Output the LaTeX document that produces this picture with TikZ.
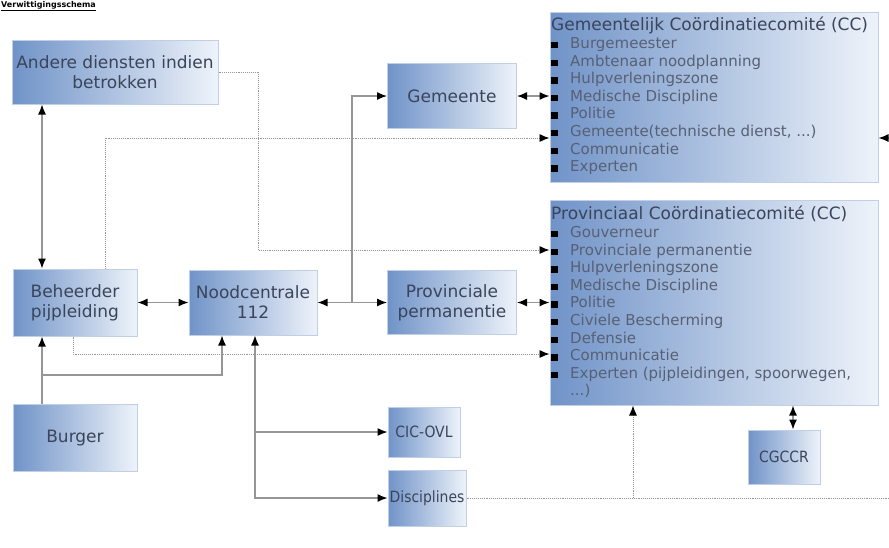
\documentclass[tikz,border=0pt]{standalone}
\usepackage{fontspec}
\setmainfont{DejaVu Sans}
\newfontfamily\narrowfont{DejaVu Sans Condensed}
\usetikzlibrary{arrows.meta}

\definecolor{boxdark}{RGB}{112,147,200}
\definecolor{boxlight}{RGB}{238,243,250}
\definecolor{boxrim}{RGB}{192,207,230}
\definecolor{labeltext}{RGB}{58,68,90}
\definecolor{itemtext}{RGB}{88,96,116}
\definecolor{linegrey}{RGB}{150,150,150}

\newcommand\blt{\makebox[19pt][l]{\color{black}\rule{6.5pt}{6.5pt}}}

\tikzset{
	unit/.style = {draw = boxrim, line width = 1pt, left color = boxdark, right color = boxlight,
		text = labeltext, align = center, inner sep = 0pt, font = \fontsize{17}{20}\selectfont},
	smallunit/.style = {unit, font = \narrowfont\fontsize{15.5}{18}\selectfont},
	itemlist/.style = {anchor = north west, align = left, inner sep = 0pt, text = itemtext,
		font = \fontsize{15}{17.6}\selectfont},
	link/.style = {draw = linegrey, line width = 1.3pt},
	dots/.style = {draw = linegrey, line width = 0.9pt, densely dotted}
}

\begin{document}
\begin{tikzpicture}[x = 1pt, y = -1pt, > = {Latex[length = 10pt, width = 8pt, color = black]}]

	% Definition

	\useasboundingbox (0, 0) rectangle (889, 547);

	\coordinate (xa) at (42, 0);	% Burger / Beheerder column
	\coordinate (xb) at (222, 0);
	\coordinate (xc) at (255, 0);
	\coordinate (xd) at (352, 0);
	\coordinate (xe) at (633, 0);
	\coordinate (xf) at (793, 0);
	\coordinate (xg) at (258, 0);
	\coordinate (xh) at (105, 0);
	\coordinate (xi) at (73, 0);
	\coordinate (xr) at (889, 0);	% right edge
	\coordinate (ya) at (0, 138);
	\coordinate (yb) at (0, 250);
	\coordinate (yc) at (0, 354);
	\coordinate (yd) at (0, 375);

	% Title

	\node [anchor = north west, inner sep = 0pt, font = \bfseries\fontsize{8}{10}\selectfont] (title)
		at (1, 1) {\underline{Verwittigingsschema}};

	% Boxes

	\node [unit, minimum width = 206, minimum height = 64] (andere) at (115, 72) {Andere diensten indien\\betrokken};
	\node [unit, minimum width = 129, minimum height = 65] (gem) at (452, 96) {Gemeente};
	\node [unit, minimum width = 124, minimum height = 67] (beh) at (75, 302.5) {Beheerder\\pijpleiding};
	\node [unit, minimum width = 128, minimum height = 65] (nood) at (253, 302.5) {Noodcentrale\\112};
	\node [unit, minimum width = 129, minimum height = 64] (prov) at (452, 302.5) {Provinciale\\permanentie};
	\node [unit, minimum width = 124, minimum height = 67] (burger) at (75, 438) {Burger};
	\node [smallunit, minimum width = 72, minimum height = 50] (cic) at (424, 432) {CIC-OVL};
	\node [smallunit, minimum width = 78, minimum height = 56] (disc) at (427, 498) {Disciplines};
	\node [smallunit, minimum width = 72, minimum height = 54] (cgccr) at (784, 457) {CGCCR};

	% Coordination committees

	\node [unit, minimum width = 328, minimum height = 170] (gcc) at (714, 97) {};
	\node [itemlist] (gcclist) at (551, 17) {%
		{\color{labeltext}\fontsize{17}{17.6}\selectfont Gemeentelijk Coördinatiecomité (CC)}\\
		\blt Burgemeester\\
		\blt Ambtenaar noodplanning\\
		\blt Hulpverleningszone\\
		\blt Medische Discipline\\
		\blt Politie\\
		\blt Gemeente(technische dienst, ...)\\
		\blt Communicatie\\
		\blt Experten};

	\node [unit, minimum width = 328, minimum height = 205] (pcc) at (714, 302.5) {};
	\node [itemlist] (pcclist) at (551, 206) {%
		{\color{labeltext}\fontsize{17}{17.6}\selectfont Provinciaal Coördinatiecomité (CC)}\\
		\blt Gouverneur\\
		\blt Provinciale permanentie\\
		\blt Hulpverleningszone\\
		\blt Medische Discipline\\
		\blt Politie\\
		\blt Civiele Bescherming\\
		\blt Defensie\\
		\blt Communicatie\\
		\blt Experten (pijpleidingen, spoorwegen,\\
		\hspace*{19pt}...)};

	% Solid connectors

	\draw [link, <->] (andere.south -| xa) -- (beh.north -| xa);
	\draw [link, ->] (burger.north -| xa) -- (beh.south -| xa);
	\draw [link, ->] (xa |- yd) -- (xb |- yd) -- (nood.south -| xb);
	\draw [link, <->] (beh) -- (nood);
	\draw [link, <->] (nood) -- (prov);
	\draw [link, ->] (xd |- nood) -- (xd |- gem) -- (gem);
	\draw [link, <->] (gem) -- (gem -| gcc.west);
	\draw [link, <->] (prov) -- (prov -| pcc.west);
	\draw [link, <->] (nood.south -| xc) -- (xc |- disc) -- (disc);
	\draw [link, ->] (xc |- cic) -- (cic);
	\draw [link, <->] (pcc.south -| xf) -- (cgccr.north -| xf);
	\draw [link, ->] (xr |- ya) -- (gcc.east |- ya);

	% Dotted connectors

	\draw [dots, ->] (andere.east) -- (xg |- andere.east) -- (xg |- yb) -- (pcc.west |- yb);
	\draw [dots, ->] (beh.north -| xh) -- (xh |- ya) -- (gcc.west |- ya);
	\draw [dots, ->] (beh.south -| xi) -- (xi |- yc) -- (pcc.west |- yc);
	\draw [dots] (disc) -- (xr |- disc);
	\draw [dots, ->] (xe |- disc) -- (pcc.south -| xe);

\end{tikzpicture}
\end{document}
